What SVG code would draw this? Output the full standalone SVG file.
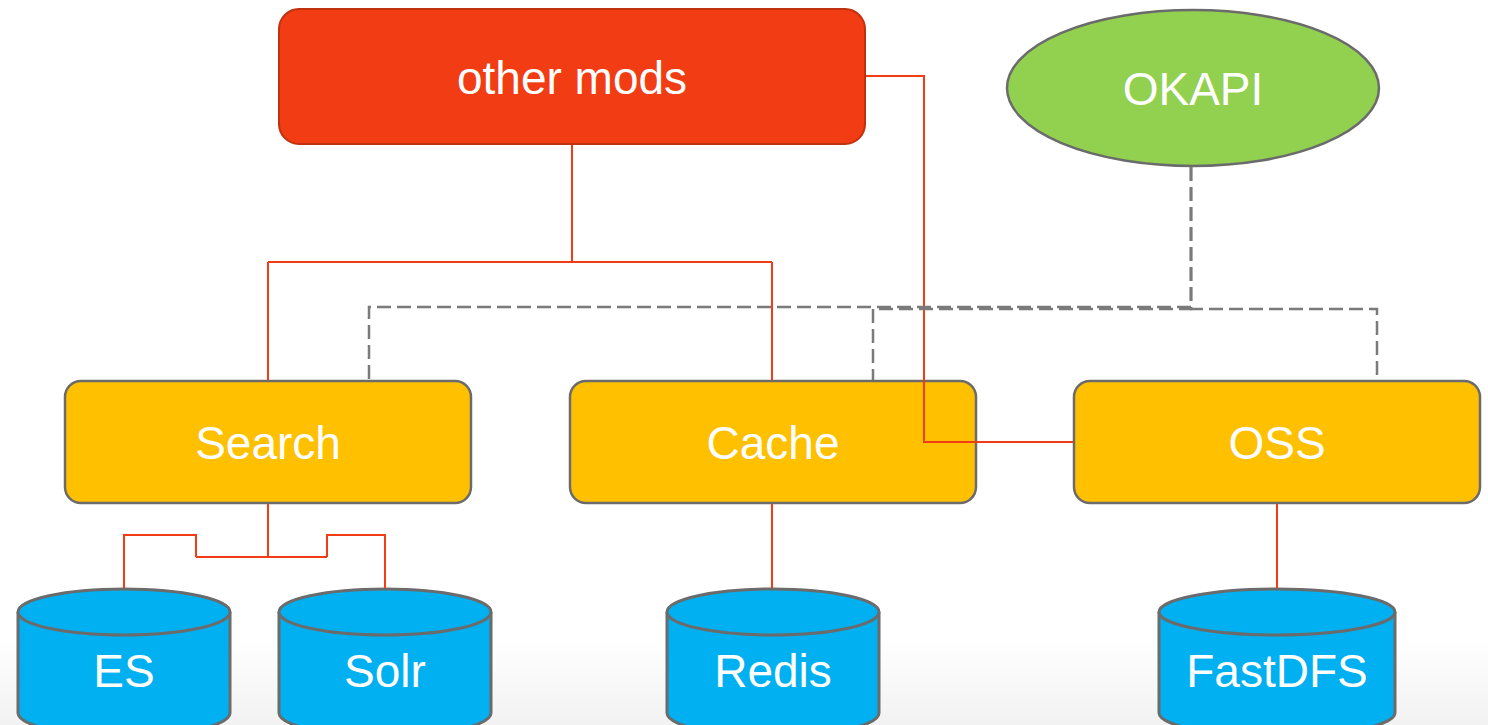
<svg xmlns="http://www.w3.org/2000/svg" width="1488" height="725" viewBox="0 0 1488 725">
<defs>
<linearGradient id="bg" x1="0" y1="0" x2="0" y2="1">
<stop offset="0" stop-color="#ffffff"/>
<stop offset="1" stop-color="#f2f2f2"/>
</linearGradient>
</defs>
<style>
.red{fill:none;stroke:#f23c13;stroke-width:2}
.dash{fill:none;stroke:#7a7a7a;stroke-width:2.5;stroke-dasharray:14 6}
.box{fill:#ffc000;stroke:#6b6b6b;stroke-width:2.5}
.cyl{fill:#00b0f0;stroke:#6b6b6b;stroke-width:3}
.lbl{font-family:"Liberation Sans",Arial,sans-serif;font-size:46px;fill:#ffffff;text-anchor:middle}
</style>
<rect x="0" y="0" width="1488" height="725" fill="#ffffff"/>
<rect x="0" y="640" width="1488" height="85" fill="url(#bg)"/>
<g id="other-mods">
<rect x="279" y="9" width="586" height="135" rx="20" fill="#f23c13" stroke="#c0320f" stroke-width="2"/>
<text class="lbl" x="572" y="94">other mods</text>
</g>
<g id="okapi">
<ellipse cx="1193" cy="88" rx="186" ry="78" fill="#92d050" stroke="#6b6b6b" stroke-width="2.5"/>
<text class="lbl" x="1193" y="105">OKAPI</text>
</g>
<g id="search">
<rect class="box" x="65" y="381" width="406" height="122" rx="16"/>
<text class="lbl" x="268" y="459">Search</text>
</g>
<g id="cache">
<rect class="box" x="570" y="381" width="406" height="122" rx="16"/>
<text class="lbl" x="773" y="459">Cache</text>
</g>
<g id="oss">
<rect class="box" x="1074" y="381" width="406" height="122" rx="16"/>
<text class="lbl" x="1277" y="459">OSS</text>
</g>
<g id="es">
<path class="cyl" d="M18,612 A106,23 0 0 1 230,612 V713 A106,23 0 0 1 18,713 Z"/>
<path class="cyl" d="M18,612 A106,23 0 0 0 230,612"/>
<text class="lbl" x="124" y="687">ES</text>
</g>
<g id="solr">
<path class="cyl" d="M279,612 A106,23 0 0 1 491,612 V713 A106,23 0 0 1 279,713 Z"/>
<path class="cyl" d="M279,612 A106,23 0 0 0 491,612"/>
<text class="lbl" x="385" y="687">Solr</text>
</g>
<g id="redis">
<path class="cyl" d="M667,612 A106,23 0 0 1 879,612 V713 A106,23 0 0 1 667,713 Z"/>
<path class="cyl" d="M667,612 A106,23 0 0 0 879,612"/>
<text class="lbl" x="773" y="687">Redis</text>
</g>
<g id="fastdfs">
<path class="cyl" d="M1159,612 A118,23 0 0 1 1395,612 V713 A118,23 0 0 1 1159,713 Z"/>
<path class="cyl" d="M1159,612 A118,23 0 0 0 1395,612"/>
<text class="lbl" x="1277" y="687">FastDFS</text>
</g>
<g id="connectors">
<path class="red" d="M572,145 V262 M268,262 H772 M268,262 V380 M772,262 V380"/>
<path class="red" d="M866,76 H924 V442 H1073"/>
<path class="red" d="M268,504 V557 M196,557 H327 M196,557 V535 H124 V588 M327,557 V535 H385 V588"/>
<path class="red" d="M772,504 V588"/>
<path class="red" d="M1277,504 V588"/>
<path class="dash" d="M1191,167 V307 H369 V380"/>
<path class="dash" d="M1191,167 V309 H873 V380"/>
<path class="dash" d="M1191,167 V309 H1377 V380"/>
</g>
</svg>
